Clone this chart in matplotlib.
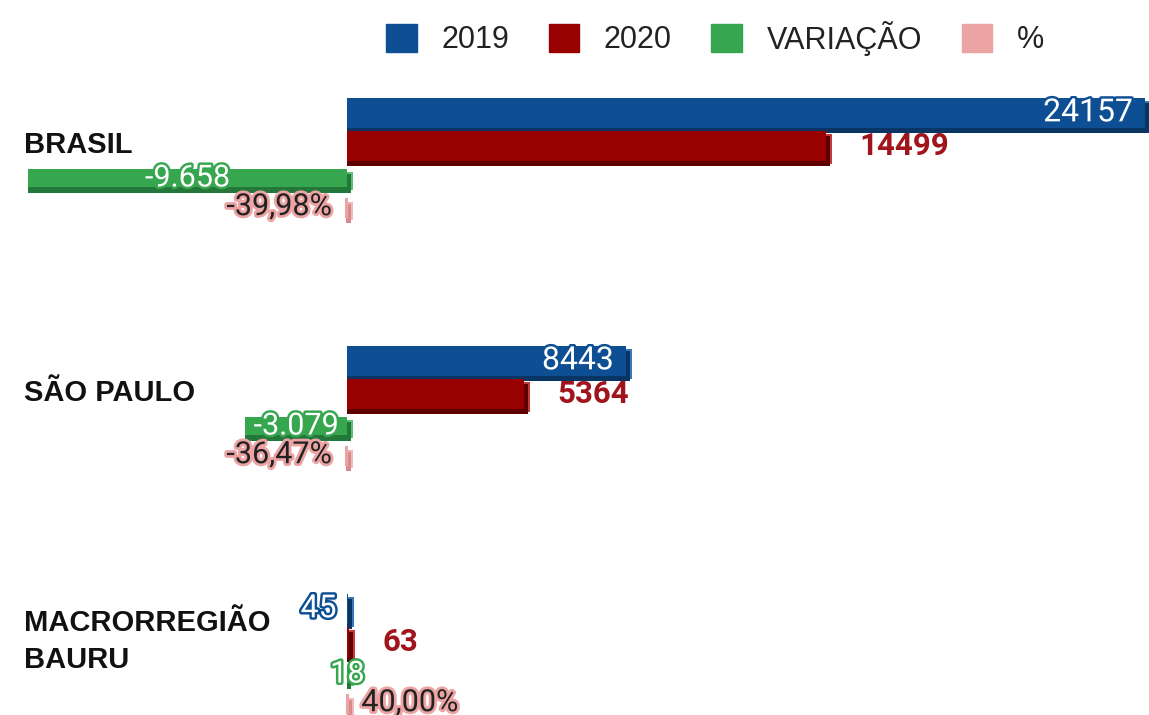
import matplotlib
matplotlib.use("Agg")
import matplotlib.pyplot as plt
import matplotlib.patheffects as pe
from matplotlib.patches import Patch
from matplotlib.transforms import blended_transform_factory

categories = ["BRASIL", "SÃO PAULO", "MACRORREGIÃO\nBAURU"]
series_names = ["2019", "2020", "VARIAÇÃO", "%"]
v2019 = [24157, 8443, 45]
v2020 = [14499, 5364, 63]
variacao = [-9658, -3079, 18]
pct = [-39.98, -36.47, 40.00]

colors = ["#0e4f93", "#990000", "#36a64f", "#eba3a3"]
shadows = ["#083563", "#5e0000", "#24773a", "#d98a8a"]
caps = ["#3a78b8", "#c23a3a", "#5cc06f", "#f0b8b8"]

W, H = 1149, 715
fig = plt.figure(figsize=(W / 100, H / 100), dpi=100)
ax = fig.add_axes([0, 0, 1, 1])
ax.axis("off")

px_per_unit = 0.03304
ax.set_xlim(-347 / px_per_unit, (W - 347) / px_per_unit)
ax.set_ylim(2.233, -0.650)

offsets = [-0.195, -0.062, 0.068, 0.189]
heights = [0.121, 0.121, 0.073, 0.073]
depth_x = 6 / px_per_unit
depth_y = 0.022

series = [v2019, v2020, variacao, pct]
for s, vals in enumerate(series):
    for i, v in enumerate(vals):
        y = i + offsets[s]
        left = min(0, v)
        w = abs(v)
        # pseudo 3d: end cap + bottom band
        ax.barh(y + depth_y / 2, depth_x, left=left + w, height=heights[s],
                color=caps[s], linewidth=0)
        ax.barh(y + depth_y, w + depth_x * 0.6, left=left, height=heights[s],
                color=shadows[s], linewidth=0)
        ax.barh(y, w, left=left, height=heights[s], color=colors[s],
                linewidth=1.5 if s == 3 else 0, edgecolor=colors[s])

def pt(px):
    return px * 0.72

for i in range(len(categories)):
    # 2019: white text with blue halo, inside end of bar
    ax.annotate(str(v2019[i]), (v2019[i], i + offsets[0]), xytext=(pt(-12), 0),
                textcoords="offset points", ha="right", va="center",
                fontsize=23, family="Roboto", color="white",
                path_effects=[pe.withStroke(linewidth=3.5, foreground=colors[0])])
    # 2020: dark red bold, after bar end
    ax.annotate(str(v2020[i]), (v2020[i], i + offsets[1]), xytext=(pt(33), 0),
                textcoords="offset points", ha="left", va="center",
                fontsize=22.5, family="Roboto", fontweight="bold", color="#a0141c")
    # variação: centered on bar
    lab = f"{variacao[i]:,}".replace(",", ".")
    ax.annotate(lab, (variacao[i] / 2, i + offsets[2]), xytext=(0, 0),
                textcoords="offset points", ha="center", va="center",
                fontsize=22, family="Roboto", color="white",
                path_effects=[pe.withStroke(linewidth=3.5, foreground=colors[2])])
    # percent
    plab = f"{pct[i]:.2f}".replace(".", ",") + "%"
    if pct[i] < 0:
        xt, ha = pt(-14), "right"
    else:
        xt, ha = pt(13), "left"
    ax.annotate(plab, (pct[i], i + offsets[3]), xytext=(xt, 1),
                textcoords="offset points", ha=ha, va="center",
                fontsize=22, family="Roboto", color="#222222",
                path_effects=[pe.withStroke(linewidth=4, foreground=colors[3])])

trans = blended_transform_factory(ax.transAxes, ax.transData)
for i, c in enumerate(categories):
    ax.text(24 / W, i - 0.064, c, transform=trans, ha="left", va="center",
            fontsize=21, fontweight="bold", family="Liberation Sans",
            color="#111111", linespacing=1.4)

handles = [Patch(facecolor=colors[k], edgecolor=colors[k], label=series_names[k])
           for k in range(4)]
fig.legend(handles=handles, loc="center", bbox_to_anchor=(715 / W, 1 - 38 / H),
           ncol=4, frameon=False, prop={"family": "Liberation Sans", "size": 22},
           handlelength=1.0, handleheight=1.0, handletextpad=0.8,
           columnspacing=1.3, labelcolor="#222222")

fig.savefig("out.png", dpi=100)
